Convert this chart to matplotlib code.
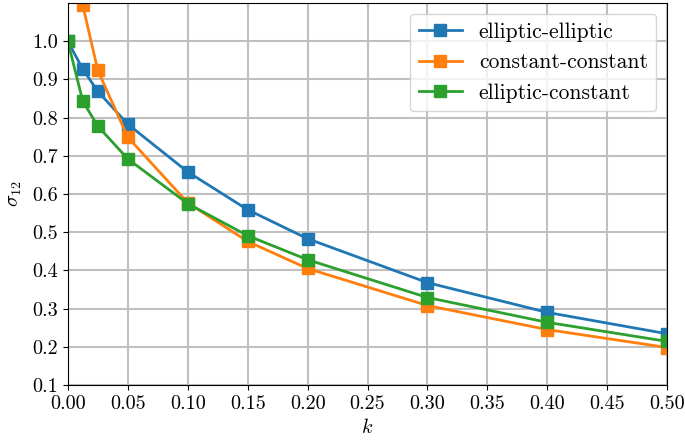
import numpy as np
import matplotlib
matplotlib.use("Agg")
import matplotlib.pyplot as plt

plt.rcParams['font.family'] = 'cmr10'
plt.rcParams['mathtext.fontset'] = 'cm'
plt.rcParams['axes.formatter.use_mathtext'] = True
plt.rcParams['font.size'] = 14.5

k = [0.0, 0.0125, 0.025, 0.05, 0.1, 0.15, 0.2, 0.3, 0.4, 0.5]
elliptic_elliptic = [1.0, 0.927, 0.869, 0.783, 0.658, 0.559, 0.483, 0.368, 0.290, 0.234]
constant_constant = [1.6, 1.094, 0.924, 0.749, 0.577, 0.476, 0.405, 0.308, 0.245, 0.198]
elliptic_constant = [1.0, 0.843, 0.778, 0.692, 0.575, 0.491, 0.428, 0.329, 0.264, 0.214]

fig, ax = plt.subplots(figsize=(6.85, 4.43), dpi=100)
ax.plot(k, elliptic_elliptic, marker='s', ms=8, lw=2, label='elliptic-elliptic')
ax.plot(k, constant_constant, marker='s', ms=8, lw=2, label='constant-constant')
ax.plot(k, elliptic_constant, marker='s', ms=8, lw=2, label='elliptic-constant')

ax.set_xlim(0, 0.5)
ax.set_ylim(0.1, 1.1)
ax.set_xticks(np.arange(0, 0.501, 0.05))
ax.set_yticks(np.arange(0.1, 1.01, 0.1))
ax.set_xticklabels(["%.2f" % v for v in np.arange(0, 0.501, 0.05)])
ax.set_yticklabels(["%.1f" % v for v in np.arange(0.1, 1.01, 0.1)])
ax.grid(True, color='#c0c0c0', lw=1.5)
ax.set_xlabel(r'$k$', labelpad=4)
ax.set_ylabel(r'$\sigma_{12}$', labelpad=6)
ax.legend(loc='upper right', fontsize=15.5)

fig.subplots_adjust(left=0.099, right=0.974, top=0.993, bottom=0.131)
fig.savefig('out.png', dpi=100)
